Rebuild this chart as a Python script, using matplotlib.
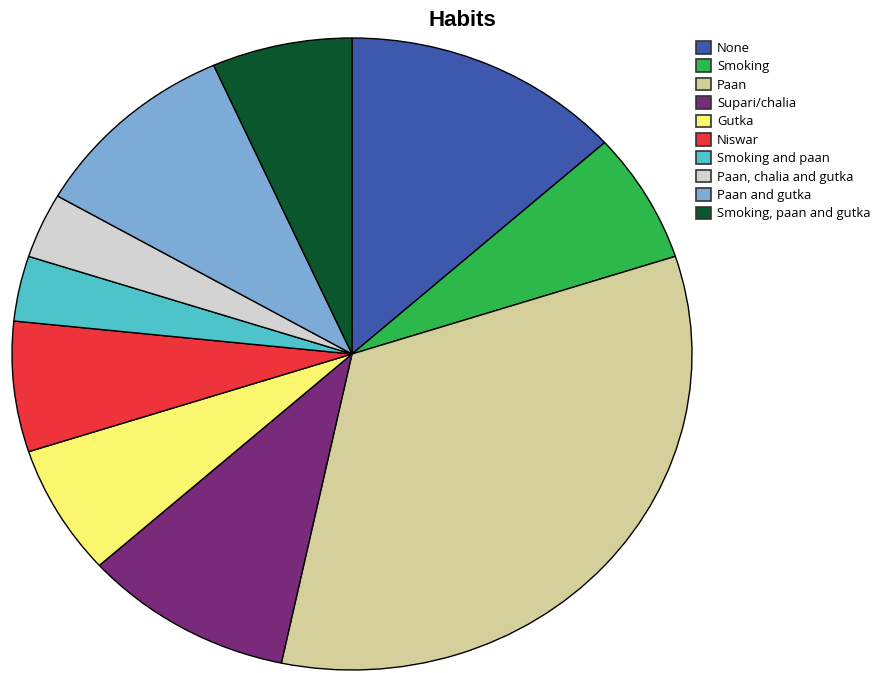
import matplotlib
matplotlib.use("Agg")
from matplotlib import pyplot as plt
from matplotlib.patches import Patch

habits = ["None", "Smoking", "Paan", "Supari/chalia", "Gutka", "Niswar",
          "Smoking and paan", "Paan, chalia and gutka", "Paan and gutka",
          "Smoking, paan and gutka"]
counts = [4, 2, 10, 3, 2, 2, 1, 1, 3, 2]
colors = ["#3D58AD", "#2DB84B", "#D4CF9B", "#7A2A7B", "#FAF66E", "#EE333A",
          "#4CC4C9", "#D3D3D3", "#7DABD8", "#0B572D"]

W, H = 880, 673
fig = plt.figure(figsize=(W / 100, H / 100), dpi=100)

# stretched pie: the axes box sets the ellipse
ax = fig.add_axes([12 / W, 3 / H, 680 / W, 632 / H])
ax.pie(counts, colors=colors, startangle=90, counterclock=False,
       wedgeprops=dict(edgecolor="black", linewidth=1.0))
ax.set_aspect("auto")
ax.set_xlim(-1, 1)
ax.set_ylim(-1, 1)
ax.axis("off")

fig.text(462 / W, 1 - 20 / H, "Habits", ha="center", va="center",
         fontsize=16, fontweight="bold", family="Liberation Sans")

handles = [Patch(facecolor=c, edgecolor="#333333", linewidth=1.2) for c in colors]
fig.legend(handles, habits, loc="upper left",
           bbox_to_anchor=(696 / W, 1 - 41 / H), frameon=False,
           handlelength=1.15, handleheight=1.1, handletextpad=0.45,
           labelspacing=0.36, borderaxespad=0, borderpad=0,
           prop=dict(family="Open Sans", size=9.4))

fig.savefig("out.png", dpi=100)
